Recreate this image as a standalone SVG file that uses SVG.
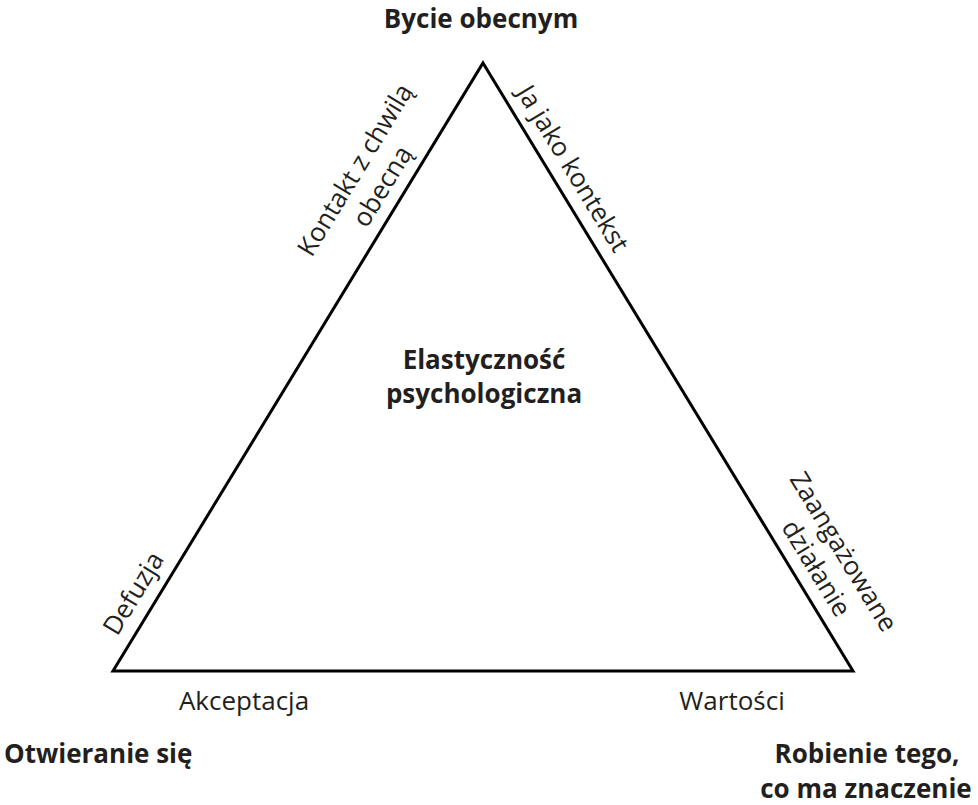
<svg xmlns="http://www.w3.org/2000/svg" width="978" height="805" viewBox="0 0 978 805">
<style>
text{font-family:"Open Sans","Liberation Sans",sans-serif;fill:#231f20;font-size:26px}
.b{font-weight:700}
.r{font-weight:400}
.m{text-anchor:middle}
.edge{fill:none;stroke:#000;stroke-width:3;stroke-linejoin:miter}
</style>
<rect width="978" height="805" fill="#fff"/>
<g id="connectors">
<polygon class="edge" points="483,63 853,671 113,671"/>
</g>
<g id="node-top"><text class="b m" x="481" y="28">Bycie obecnym</text></g>
<g id="node-center"><text class="b m" x="484" y="369">Elastyczność</text><text class="b m" x="484" y="403">psychologiczna</text></g>
<g id="node-left"><text class="b" x="4" y="763">Otwieranie się</text></g>
<g id="node-right"><text class="b m" x="867" y="763">Robienie tego,</text><text class="b m" x="866" y="798">co ma znaczenie</text></g>
<g id="label-akceptacja"><text class="r m" x="244" y="710">Akceptacja</text></g>
<g id="label-wartosci"><text class="r m" x="732" y="710">Wartości</text></g>
<g id="label-defuzja"><text class="r m" transform="translate(141,598) rotate(-58.68)">Defuzja</text></g>
<g id="label-kontakt"><text class="r m" transform="translate(362.7,174.5) rotate(-58.68)">Kontakt z chwilą</text><text class="r m" transform="translate(390,191) rotate(-58.68)">obecną</text></g>
<g id="label-ja"><text class="r m" transform="translate(565.3,173.2) rotate(58.68)">Ja jako kontekst</text></g>
<g id="label-zaang"><text class="r m" transform="translate(836,556.3) rotate(58.68)">Zaangażowane</text><text class="r m" transform="translate(808.7,572.9) rotate(58.68)">działanie</text></g>
</svg>
